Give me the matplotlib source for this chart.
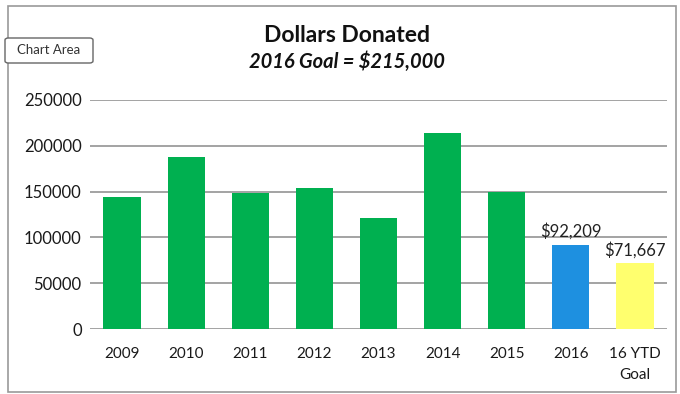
import numpy as np
import matplotlib.pyplot as plt
from matplotlib.patches import Rectangle, FancyBboxPatch

plt.rcParams['font.family'] = ['Lato', 'DejaVu Sans']

# donations per year
Years = ['2009', '2010', '2011', '2012', '2013', '2014', '2015', '2016', '16 YTD\nGoal']
Amounts = [144000, 188000, 148000, 154000, 121000, 214000, 150000, 92209, 71667]
Colors = ['#00b050'] * 7 + ['#1e90e0', '#ffff6e']
Labels = ['', '', '', '', '', '', '', '$92,209', '$71,667']
Ticks = [0, 50000, 100000, 150000, 200000, 250000]

fig = plt.figure(figsize=(6.8, 3.94), dpi=100)
ax = fig.add_axes([90 / 680, 1 - 329 / 394, 577 / 680, 229 / 394])

x = np.arange(len(Years))
ax.bar(x, Amounts, width=0.58, color=Colors, zorder=2)

# value labels over the 2016 bars
for i in range(len(Years)):
    if Labels[i]:
        ax.text(x[i], Amounts[i] + 5000, Labels[i], ha='center', va='bottom',
                fontsize=12, color='#222222')

ax.set_xlim(-0.5, len(Years) - 0.5)
ax.set_ylim(0, 250000)
ax.set_yticks(Ticks)
ax.set_yticklabels([str(t) for t in Ticks])
ax.set_xticks(x)
ax.set_xticklabels(Years, linespacing=1.6, va='top')
ax.yaxis.grid(True, color='#8a8a8a', lw=1.1, zorder=0)
ax.tick_params(length=0, colors='#1a1a1a')
ax.tick_params(axis='y', pad=6, labelsize=12)
ax.tick_params(axis='x', pad=13, labelsize=11)
for s in ax.spines.values():
    s.set_visible(False)

# titles
fig.text(347 / 680, 1 - 35 / 394, 'Dollars Donated', ha='center', va='center',
         fontsize=16.5, fontweight='bold', color='#111111')
fig.text(347 / 680, 1 - 62 / 394, '2016 Goal = $215,000', ha='center', va='center',
         fontsize=14.5, fontweight='bold', style='italic', color='#111111')

# chart area frame and tooltip box
fig.patches.append(Rectangle((8 / 680, 2 / 394), 668 / 680, 386 / 394,
                             transform=fig.transFigure, fill=False,
                             edgecolor='#999999', lw=1.2))
fig.patches.append(FancyBboxPatch((5 / 680, 1 - 63 / 394), 88 / 680, 25 / 394,
                                  boxstyle='round,pad=0,rounding_size=0.005',
                                  transform=fig.transFigure, facecolor='white',
                                  edgecolor='#666666', lw=1))
fig.text(49 / 680, 1 - 50 / 394, 'Chart Area', ha='center', va='center',
         fontsize=9.5, color='#333333')

fig.savefig('out.png', dpi=100)
